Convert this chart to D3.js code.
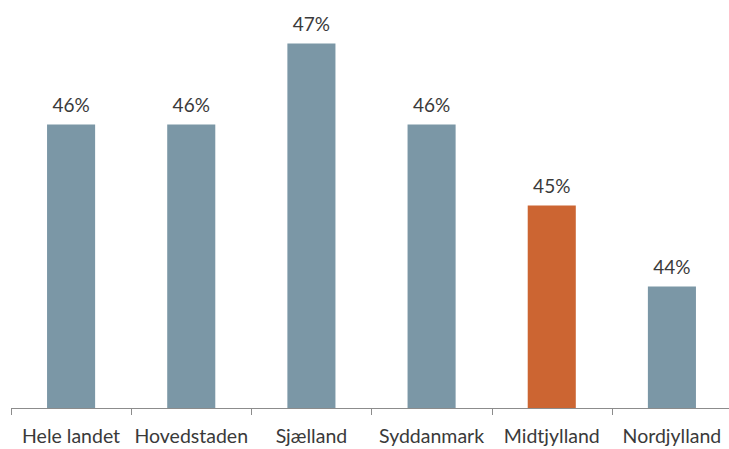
<!DOCTYPE html>
<html>
<head>
<meta charset="utf-8">
<script src="https://cdn.jsdelivr.net/npm/d3@7"></script>
<style>
  html, body { margin: 0; padding: 0; background: #fff; }
  svg { display: block; }
  text { font-family: Lato, "Open Sans", sans-serif; fill: #3a3a3a; }
</style>
</head>
<body>
<svg id="canvas" width="729" height="449"></svg>
<script>
'use strict';

/* regions shown along the bottom axis */
var regions = ['Hele landet', 'Hovedstaden', 'Sjælland', 'Syddanmark', 'Midtjylland', 'Nordjylland'];
/* share in percent for each region */
var shares = [46, 46, 47, 46, 45, 44];
/* the region that is highlighted */
var highlight = 'Midtjylland';

var svg = d3.select('#canvas');
var width = 729, height = 449;
var left = 11, right = 732, baseline = 408;

/* band scale for the regions */
var x = d3.scaleBand()
  .domain(regions)
  .range([left, right])
  .paddingInner(0.6)
  .paddingOuter(0.3);

/* value axis does not start at zero */
var y = d3.scaleLinear()
  .domain([42.5, 47.5])
  .range([baseline, 3]);

var data = regions.map(function(r, i){ return {region: r, value: shares[i]}; });

/* bars */
svg.append('g').selectAll('rect')
  .data(data)
  .enter().append('rect')
    .attr('x', function(d){ return x(d.region); })
    .attr('y', function(d){ return y(d.value); })
    .attr('width', x.bandwidth())
    .attr('height', function(d){ return baseline - y(d.value); })
    .attr('fill', function(d){ return d.region === highlight ? '#cc6532' : '#7b97a6'; });

/* value labels above the bars */
svg.append('g').selectAll('text')
  .data(data)
  .enter().append('text')
    .attr('x', function(d){ return x(d.region) + x.bandwidth() / 2; })
    .attr('y', function(d){ return y(d.value) - 13; })
    .attr('text-anchor', 'middle')
    .style('font-size', '19px')
    .text(function(d){ return d.value + '%'; });

/* bottom axis, ticks between the categories */
var axis = svg.append('g')
  .attr('transform', 'translate(0,' + baseline + ')');
axis.append('line')
  .attr('x1', left).attr('x2', width)
  .attr('y1', 0.5).attr('y2', 0.5)
  .attr('stroke', '#8c8c8c');
axis.selectAll('line.tick')
  .data(regions)
  .enter().append('line')
    .attr('class', 'tick')
    .attr('x1', function(d){ return Math.round(x(d) - x.step() * 0.3) + 0.5; })
    .attr('x2', function(d){ return Math.round(x(d) - x.step() * 0.3) + 0.5; })
    .attr('y1', 0).attr('y2', 7)
    .attr('stroke', '#8c8c8c');
axis.selectAll('text')
  .data(regions)
  .enter().append('text')
    .attr('x', function(d){ return x(d) + x.bandwidth() / 2; })
    .attr('y', 35)
    .attr('text-anchor', 'middle')
    .style('font-size', '19.5px')
    .text(function(d){ return d; });
</script>
</body>
</html>
